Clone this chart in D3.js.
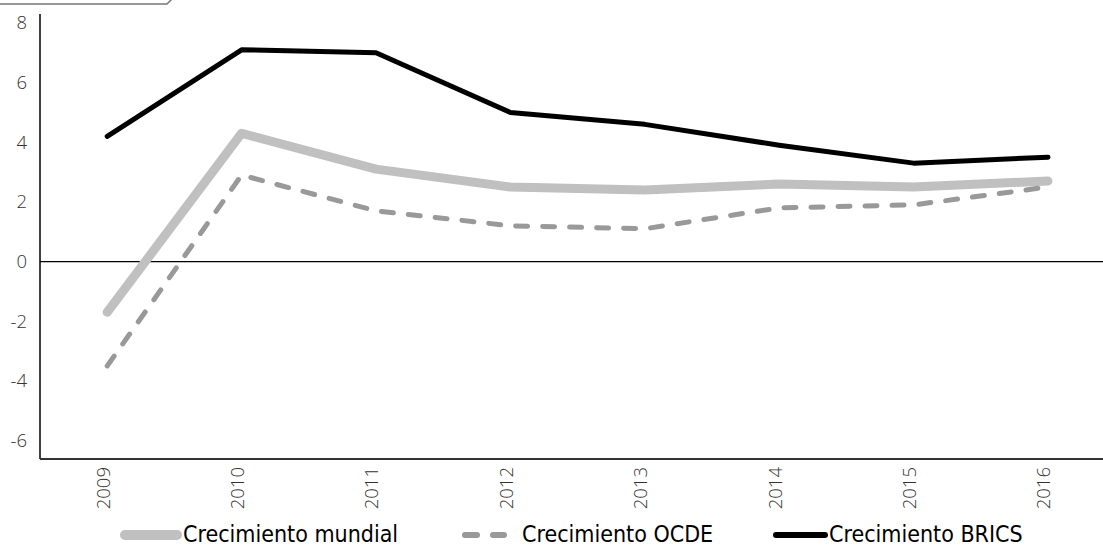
<!DOCTYPE html>
<html>
<head>
<meta charset="utf-8">
<script src="https://cdn.jsdelivr.net/npm/d3@7"></script>
<style>
  body { margin: 0; background: #fff; }
  .tick-label { font-family: "Open Sans", sans-serif; font-weight: 300; font-size: 18.5px; fill: #333; }
  .legend-label { font-family: "DejaVu Sans Condensed", "DejaVu Sans", sans-serif; font-stretch: condensed; font-size: 23px; fill: #000; }
</style>
</head>
<body>
<svg id="chart"></svg>
<script>
// Data
const years = ["2009", "2010", "2011", "2012", "2013", "2014", "2015", "2016"];
const mundial = [-1.7, 4.3, 3.1, 2.5, 2.4, 2.6, 2.5, 2.7];
const ocde = [-3.5, 2.9, 1.7, 1.2, 1.1, 1.8, 1.9, 2.5];
const brics = [4.2, 7.1, 7.0, 5.0, 4.6, 3.9, 3.3, 3.5];
const yTicks = [-6, -4, -2, 0, 2, 4, 6, 8];

const width = 1103;
const height = 548;

const svg = d3.select("#chart").attr("width", width).attr("height", height);

// Scales
const x = d3.scaleBand().domain(years).range([40, 40 + 134.4 * years.length]);
const y = d3.scaleLinear().domain([-6.62, 8.3]).range([459, 14]);
const cx = (d, i) => x(years[i]) + x.bandwidth() / 2;

// Small tab line at the top-left
svg.append("path")
  .attr("d", "M0,4 L167,4 L176,-5")
  .attr("fill", "none")
  .attr("stroke", "#777")
  .attr("stroke-width", 1.5);

// Y axis line and labels
svg.append("line")
  .attr("x1", 40).attr("x2", 40)
  .attr("y1", y.range()[1]).attr("y2", y.range()[0])
  .attr("stroke", "#000").attr("stroke-width", 1.5);

svg.selectAll(".ylab")
  .data(yTicks)
  .enter()
  .append("text")
  .attr("class", "tick-label")
  .attr("x", 27)
  .attr("y", (d) => y(d))
  .attr("dy", "0.35em")
  .attr("text-anchor", "end")
  .text((d) => d);

// Zero line
svg.append("line")
  .attr("x1", 40).attr("x2", width)
  .attr("y1", y(0)).attr("y2", y(0))
  .attr("stroke", "#000").attr("stroke-width", 1.2);

// Bottom axis line
svg.append("line")
  .attr("x1", 40).attr("x2", width)
  .attr("y1", 459).attr("y2", 459)
  .attr("stroke", "#333").attr("stroke-width", 2);

// X labels, rotated
svg.selectAll(".xlab")
  .data(years)
  .enter()
  .append("text")
  .attr("class", "tick-label")
  .attr("transform", (d) => `translate(${x(d) + x.bandwidth() / 2 - 4},467) rotate(-90)`)
  .attr("dy", "0.35em")
  .attr("text-anchor", "end")
  .text((d) => d);

// Lines
const line = d3.line().x(cx).y((d) => y(d));

const series = [
  { name: "Crecimiento mundial", values: mundial, color: "#c0c0c0", w: 9, dash: null },
  { name: "Crecimiento OCDE", values: ocde, color: "#999", w: 5, dash: "12,15" },
  { name: "Crecimiento BRICS", values: brics, color: "#000", w: 5, dash: null },
];

series.forEach((s) => {
  svg.append("path")
    .datum(s.values)
    .attr("d", line)
    .attr("fill", "none")
    .attr("stroke", s.color)
    .attr("stroke-width", s.w)
    .attr("stroke-linecap", "round")
    .attr("stroke-linejoin", "round")
    .attr("stroke-dasharray", s.dash);
});

// Legend
const legendItems = [
  { x1: 125, x2: 177, tx: 183, w: 10, dash: null },
  { x1: 465, x2: 504, tx: 522, w: 6, dash: "12,16" },
  { x1: 776, x2: 825, tx: 829, w: 6, dash: null },
];
const ly = 535;
series.forEach((s, i) => {
  const it = legendItems[i];
  svg.append("line")
    .attr("x1", it.x1).attr("x2", it.x2)
    .attr("y1", ly).attr("y2", ly)
    .attr("stroke", s.color)
    .attr("stroke-width", it.w)
    .attr("stroke-linecap", "round")
    .attr("stroke-dasharray", it.dash);
  svg.append("text")
    .attr("class", "legend-label")
    .attr("x", it.tx)
    .attr("y", ly)
    .attr("dy", "0.3em")
    .text(s.name);
});
</script>
</body>
</html>
